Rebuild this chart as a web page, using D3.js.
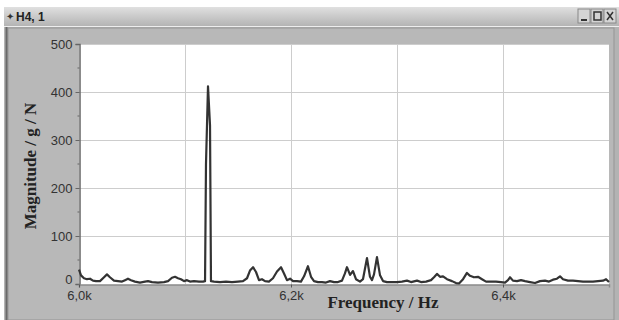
<!DOCTYPE html>
<html lang="en">
<head>
  <meta charset="UTF-8">
  <title>H4, 1</title>
  <style>
    body { margin: 0; background: #fff; }
  </style>
</head>
<body>

  <svg id="svg" width="619" height="320"></svg>

  <script src="https://d3js.org/d3.v7.min.js"></script>
  <script>
    // spectrum, frequency in Hz and magnitude in g/N
    const freqs = [6000, 6001.9, 6004.7, 6007.5, 6010.4, 6013.2, 6016.0, 6019.8, 6023.6, 6026.4,
      6029.2, 6033.0, 6036.8, 6040.6, 6043.4, 6046.2, 6049.1, 6052.8, 6057.5, 6062.3,
      6065.1, 6068.9, 6074.5, 6080.2, 6084.0, 6087.7, 6090.6, 6093.4, 6096.2, 6099.1,
      6101.9, 6104.7, 6108.5, 6113.2, 6117.0, 6118.9, 6119.8, 6121.7, 6123.6, 6124.5,
      6127.4, 6133.0, 6138.7, 6144.3, 6150.0, 6154.7, 6158.5, 6161.3, 6164.2, 6167.0,
      6169.8, 6172.6, 6175.5, 6179.2, 6183.0, 6186.8, 6190.6, 6193.4, 6196.2, 6199.1,
      6201.9, 6205.7, 6209.4, 6212.3, 6216.0, 6218.9, 6221.7, 6225.5, 6229.2, 6233.0,
      6236.8, 6240.6, 6244.3, 6248.1, 6250.9, 6252.8, 6255.7, 6258.5, 6261.3, 6265.1,
      6267.9, 6271.7, 6274.5, 6276.4, 6278.3, 6281.1, 6284.0, 6286.8, 6290.6, 6295.3,
      6300.0, 6304.7, 6309.4, 6313.2, 6318.9, 6322.6, 6327.4, 6332.1, 6334.9, 6337.7,
      6340.6, 6343.4, 6347.2, 6351.9, 6355.7, 6358.5, 6362.3, 6366.0, 6368.9, 6372.6,
      6376.4, 6380.2, 6384.0, 6388.7, 6393.4, 6398.1, 6401.9, 6404.7, 6406.6, 6409.4,
      6413.2, 6417.0, 6420.8, 6425.5, 6430.2, 6434.9, 6439.6, 6443.4, 6447.2, 6450.9,
      6453.8, 6456.6, 6461.3, 6466.0, 6470.8, 6475.5, 6480.2, 6484.9, 6489.6, 6494.3,
      6497.2, 6500.0]
    const magnitudes = [30, 18, 12, 10, 11, 7, 6, 6, 14, 20,
      14, 7, 6, 5, 8, 11, 8, 5, 3, 5,
      6, 4, 3, 4, 6, 13, 15, 12, 10, 6,
      8, 5, 6, 5, 5, 6, 250, 412, 330, 6,
      5, 4, 5, 4, 5, 6, 12, 28, 35, 25,
      8, 10, 6, 5, 12, 26, 35, 22, 8, 11,
      6, 6, 5, 16, 37, 15, 6, 4, 4, 3,
      6, 4, 4, 7, 22, 35, 19, 27, 10, 5,
      10, 54, 15, 8, 20, 56, 18, 6, 4, 4,
      4, 5, 7, 4, 7, 4, 5, 8, 14, 21,
      15, 16, 10, 6, 2, 1, 10, 23, 17, 14,
      15, 10, 5, 5, 5, 4, 3, 8, 14, 7,
      6, 8, 6, 4, 2, 6, 7, 5, 9, 11,
      16, 10, 7, 7, 6, 5, 5, 5, 6, 7,
      10, 4]

    const yTicks = [0, 100, 200, 300, 400, 500]
    const yMinor = [50, 150, 250, 350, 450]
    const xGrid = [6100, 6200, 6300, 6400]
    const xTicks = [6000, 6200, 6400]
    const xLabels = ['6,0k', '6,2k', '6,4k']

    const data = freqs.map((f, i) => ({ f: f, m: magnitudes[i] }))

    const svg = d3.select('#svg')

    // window frame
    const bar = svg.append('defs').append('linearGradient')
      .attr('id', 'bar').attr('x1', 0).attr('y1', 0).attr('x2', 0).attr('y2', 1)
    bar.append('stop').attr('offset', 0).attr('stop-color', '#e0e0e0')
    bar.append('stop').attr('offset', 1).attr('stop-color', '#b4b4b4')

    svg.append('rect').attr('x', 0).attr('y', 0).attr('width', 619).attr('height', 320).attr('fill', '#fff')
    svg.append('rect').attr('x', 4).attr('y', 7).attr('width', 615).attr('height', 313).attr('fill', '#b3b3b3')
    svg.append('rect').attr('x', 4).attr('y', 7).attr('width', 615).attr('height', 19).attr('fill', 'url(#bar)')
    svg.append('line').attr('x1', 4).attr('x2', 619).attr('y1', 26.5).attr('y2', 26.5).attr('stroke', '#eeeeee')
    svg.append('rect').attr('x', 8).attr('y', 28).attr('width', 606).attr('height', 292).attr('fill', '#b8b8b8')
      .attr('stroke', '#959595')
    svg.append('line').attr('x1', 6.5).attr('x2', 6.5).attr('y1', 27).attr('y2', 320).attr('stroke', '#6a6a6a').attr('stroke-width', 2)

    svg.append('text').attr('x', 6).attr('y', 20).attr('font-family', 'Liberation Sans, Arial, sans-serif')
      .attr('font-size', 10).attr('fill', '#333').text('✦')
    svg.append('text').attr('x', 16).attr('y', 21).attr('font-family', 'Liberation Sans, Arial, sans-serif')
      .attr('font-size', 12).attr('font-weight', 'bold').attr('fill', '#222').text('H4, 1')

    // window buttons
    const btn = svg.append('g')
    ;[578, 591, 604].forEach(bx => {
      btn.append('rect').attr('x', bx).attr('y', 9).attr('width', 12).attr('height', 14)
        .attr('fill', '#d4d4d4').attr('stroke', '#888')
    })
    btn.append('line').attr('x1', 581).attr('x2', 587).attr('y1', 20).attr('y2', 20).attr('stroke', '#333').attr('stroke-width', 2)
    btn.append('rect').attr('x', 594).attr('y', 12).attr('width', 7).attr('height', 8).attr('fill', 'none').attr('stroke', '#333').attr('stroke-width', 1.5)
    btn.append('path').attr('d', 'M607,12 L613,20 M613,12 L607,20').attr('stroke', '#333').attr('stroke-width', 1.5)

    // plot
    const x = d3.scaleLinear().domain([6000, 6500]).range([79, 609])
    const y = d3.scaleLinear().domain([0, 500]).range([284, 44])

    svg.append('rect').attr('x', 79).attr('y', 44).attr('width', 530).attr('height', 241).attr('fill', '#fff')

    svg.append('g').selectAll('line').data(yTicks.slice(1)).enter().append('line')
      .attr('x1', 79).attr('x2', 609)
      .attr('y1', d => Math.round(y(d)) + 0.5).attr('y2', d => Math.round(y(d)) + 0.5)
      .attr('stroke', '#cdcdcd')
    svg.append('g').selectAll('line').data(xGrid).enter().append('line')
      .attr('x1', d => Math.round(x(d)) + 0.5).attr('x2', d => Math.round(x(d)) + 0.5)
      .attr('y1', 44).attr('y2', 284)
      .attr('stroke', '#cdcdcd')

    const yAxis = svg.append('g').attr('transform', 'translate(79.5,0)')
      .call(d3.axisLeft(y).tickValues(yTicks).tickSize(4).tickPadding(3))
    yAxis.append('g').selectAll('line').data(yMinor).enter().append('line')
      .attr('x1', -2).attr('x2', 0).attr('y1', d => y(d)).attr('y2', d => y(d)).attr('stroke', '#666')
    yAxis.select('.domain').attr('stroke', '#666').attr('stroke-width', 1.5)
    yAxis.selectAll('.tick line').attr('stroke', '#666')
    yAxis.selectAll('text').attr('font-family', 'Liberation Sans, Arial, sans-serif')
      .attr('font-size', 13).attr('fill', '#333')
    // lift the "0" so it sits clear of the first frequency label
    yAxis.selectAll('.tick').filter(d => d === 0).select('text').attr('dy', '-0.05em')

    const xAxis = svg.append('g').attr('transform', 'translate(0,284.5)')
      .call(d3.axisBottom(x).tickValues(xTicks).tickFormat((d, i) => xLabels[i]).tickSize(3).tickPadding(3))
    xAxis.select('.domain').attr('stroke', '#8a8a8a').attr('stroke-width', 1.5)
    xAxis.selectAll('.tick line').attr('stroke', '#555')
    xAxis.selectAll('text').attr('font-family', 'Liberation Sans, Arial, sans-serif')
      .attr('font-size', 13).attr('fill', '#333')

    const line = d3.line().x(d => x(d.f)).y(d => y(d.m))
    svg.append('path').datum(data).attr('d', line)
      .attr('fill', 'none').attr('stroke', '#333').attr('stroke-width', 2.2).attr('stroke-linejoin', 'round')

    // axis titles
    svg.append('text').attr('transform', 'translate(36,166) rotate(-90)')
      .attr('text-anchor', 'middle').attr('font-family', 'Liberation Serif, Times New Roman, serif')
      .attr('font-weight', 'bold').attr('font-size', 17).attr('fill', '#222')
      .text('Magnitude / g / N')
    svg.append('text').attr('x', 383).attr('y', 308)
      .attr('text-anchor', 'middle').attr('font-family', 'Liberation Serif, Times New Roman, serif')
      .attr('font-weight', 'bold').attr('font-size', 17).attr('fill', '#222')
      .text('Frequency / Hz')
  </script>
</body>
</html>
